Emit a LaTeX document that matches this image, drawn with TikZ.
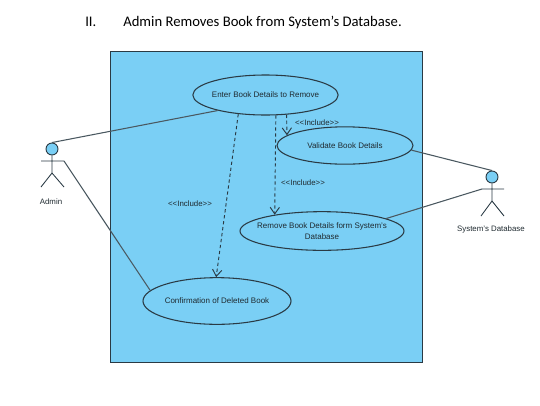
\documentclass[tikz,border=0pt]{standalone}
\usepackage{fontspec}
\setmainfont{Carlito}
\setsansfont{Liberation Sans}
\usetikzlibrary{arrows.meta,shapes.geometric}
\definecolor{sysblue}{HTML}{7ACFF5}
\definecolor{lineblk}{HTML}{2A3A44}
\definecolor{txt}{HTML}{1F2A30}
\newcommand{\nw}[1]{\makebox[0pt]{#1}}
\tikzset{
  x=0.75pt,y=-0.75pt,
  usecase/.style={draw=lineblk,fill=sysblue,ellipse,line width=0.8pt,inner sep=0pt,text=txt,font=\sffamily\fontsize{6}{8.2}\selectfont,align=center},
  lbl/.style={font=\sffamily\fontsize{5.9}{7}\selectfont,inner sep=0pt,text=txt},
  ttl/.style={font=\fontsize{11}{13}\selectfont,anchor=base west,inner sep=0pt},
  assoc/.style={draw=lineblk!85,line width=0.8pt},
  incl/.style={draw=lineblk,line width=0.7pt,dash pattern=on 2.5pt off 2pt,-{Straight Barb[length=5pt,width=7pt]}},
  actorline/.style={draw=lineblk,line width=0.65pt},
  head/.style={circle,draw=lineblk,fill=sysblue,minimum size=9pt,inner sep=0pt,line width=0.7pt}
}
\begin{document}
\begin{tikzpicture}
\useasboundingbox (0,0) rectangle (540,405);
\node[ttl] (num) at (85,26) {II.};
\node[ttl] (title) at (123,26) {Admin Removes Book from System’s Database.};
\node[draw=lineblk,fill=sysblue,line width=0.8pt,minimum width=234pt,minimum height=233pt,inner sep=0pt,anchor=north west] (sys) at (110,51) {};
\node[usecase,minimum width=109pt,minimum height=30pt] (enter) at (265.5,95) {\nw{Enter Book Details to Remove}};
\node[usecase,minimum width=102pt,minimum height=28pt] (validate) at (345,145.5) {\nw{Validate Book Details}};
\node[usecase,minimum width=123pt,minimum height=29pt] (remove) at (322,231) {\nw{Remove Book Details form System's}\\\nw{Database}};
\node[usecase,minimum width=111pt,minimum height=35pt] (confirm) at (217,301) {\nw{Confirmation of Deleted Book}};
\node[head] (adminhead) at (52,149) {};
\coordinate (adminhip) at (52,173);
\coordinate (adminarml) at (41,161);
\coordinate (adminarmr) at (64,161);
\coordinate (adminfl) at (41,187);
\coordinate (adminfr) at (64,187);
\draw[actorline] (adminhead) -- (adminhip) (adminarml) -- (adminarmr) (adminhip) -- (adminfl) (adminhip) -- (adminfr);
\node[lbl] (adminlbl) at (51,202) {Admin};
\node[head] (dbhead) at (492,177) {};
\coordinate (dbhip) at (492,201);
\coordinate (dbarml) at (482,189);
\coordinate (dbarmr) at (504,189);
\coordinate (dbfl) at (481,216);
\coordinate (dbfr) at (504,216);
\draw[actorline] (dbhead) -- (dbhip) (dbarml) -- (dbarmr) (dbhip) -- (dbfl) (dbhip) -- (dbfr);
\node[lbl] (dblbl) at (491,229) {System's Database};
\draw[assoc] (adminhead.north) -- (enter.198);
\draw[assoc] (adminarmr) -- (confirm.171);
\draw[assoc] (validate.-4) -- (dbhead.north);
\draw[assoc] (remove.11) -- (dbarml);
\draw[incl] (enter.-43) -- (validate.170);
\draw[incl] (enter.-63) -- (remove.161);
\draw[incl] (enter.-145) -- (confirm.92);
\node[lbl] (i1) at (317,123) {{<}{<}Include{>}{>}};
\node[lbl] (i2) at (303,183) {{<}{<}Include{>}{>}};
\node[lbl] (i3) at (190,204) {{<}{<}Include{>}{>}};
\end{tikzpicture}
\end{document}
